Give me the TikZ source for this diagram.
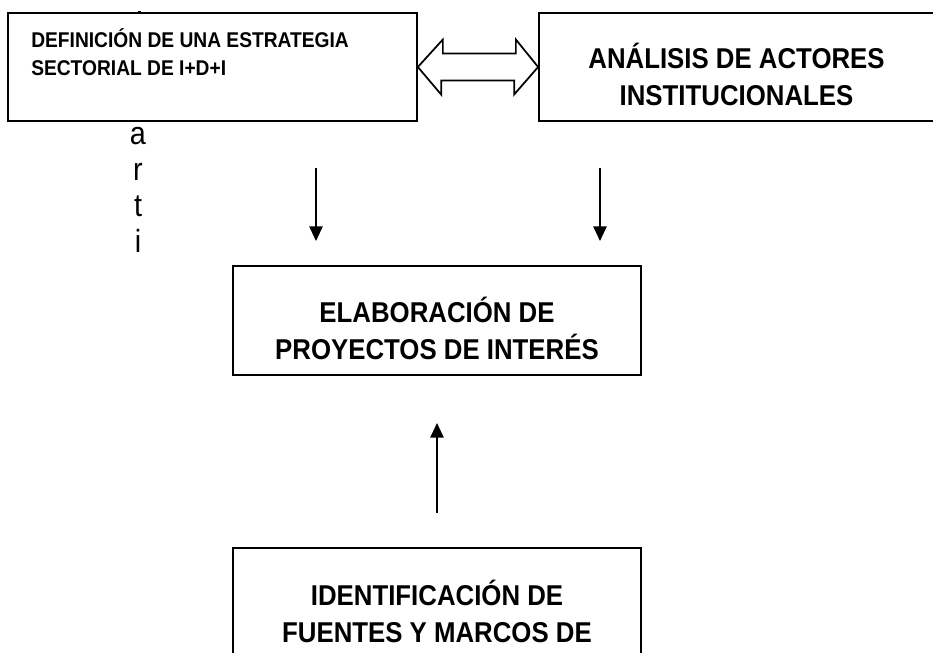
\documentclass[tikz,border=0pt]{standalone}
\usepackage{fontspec}
\setmainfont[FakeStretch=0.9]{Liberation Sans}
\usetikzlibrary{arrows.meta, positioning}

\begin{document}
\begin{tikzpicture}[
    x=0.75pt, y=-0.75pt,
    box/.style={
        draw,
        line width=1.3pt,
        fill=white,
        minimum height=81.5pt,
        inner sep=0pt
    },
    title/.style={
        font=\bfseries\fontsize{21.5}{27.75}\selectfont,
        align=center,
        inner sep=0pt
    },
    smalltitle/.style={
        font=\bfseries\fontsize{16}{21}\selectfont,
        align=left,
        inner sep=0pt
    },
    arrow/.style={-{Triangle[length=11pt, width=10pt]}, line width=1.3pt}
]
\clip (0,0) rectangle (933,653);

% ------------------------
% Top row
% ------------------------
\node[box, minimum width=306.75pt] (estrategia) at (212.5,67) {};
\node[box, minimum width=297pt, right=90.2pt of estrategia] (analisis) {};

\node[smalltitle, anchor=base west] (estrategia-txt) at (31,75)
{DEFINICIÓN DE UNA ESTRATEGIA\\
SECTORIAL DE I+D+I};

\node[title, anchor=base] (analisis-txt) at (736.5,105)
{ANÁLISIS DE ACTORES\\
INSTITUCIONALES};

% stray letters
\node[font=\fontsize{24}{27}\selectfont, align=center, inner sep=0pt, anchor=base] (letras) at (138,252)
{a\\r\\t\\i};
\fill (137.5,13) rectangle (140.5,10.5);

% double arrow
\draw[line width=1.3pt, line join=miter] (estrategia.east) -- ++(25,-27.5) -- ++(0,14) -- ++(73,0)
    -- ++(0,-14) -- (analisis.west) -- ++(-24,27.5) -- ++(0,-14) -- ++(-73,0) -- ++(0,14) -- cycle;

% ------------------------
% Middle and bottom
% ------------------------
\node[box, minimum width=306pt] (elaboracion) at (437,320.5) {};
\node[title, anchor=base] (elaboracion-txt) at (437,359)
{ELABORACIÓN DE\\
PROYECTOS DE INTERÉS};

\node[box, minimum width=306pt, below=128.5pt of elaboracion] (fuentes) {};
\node[title, anchor=base] (fuentes-txt) at (437,642)
{IDENTIFICACIÓN DE\\
FUENTES Y MARCOS DE};

% ------------------------
% Arrows
% ------------------------
\coordinate (izq) at (316,168);
\coordinate (izq-fin) at (316,241);
\coordinate (der) at (600,168);
\coordinate (der-fin) at (600,241);
\coordinate (sube) at (437,513);
\coordinate (sube-fin) at (437,423);

\draw[arrow] (izq) -- (izq-fin);
\draw[arrow] (der) -- (der-fin);
\draw[arrow] (sube) -- (sube-fin);

\end{tikzpicture}
\end{document}
